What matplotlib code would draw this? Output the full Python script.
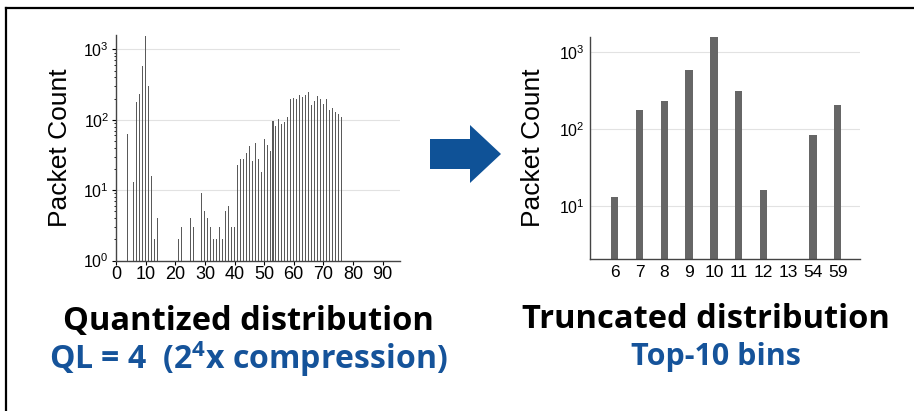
import numpy as np
import matplotlib
matplotlib.use("Agg")
import matplotlib.pyplot as plt
from matplotlib.lines import Line2D
from matplotlib.patches import Polygon

# quantized histogram (bin index -> packet count)
q_bins = [4, 6, 7, 8, 9, 10, 11, 12, 13, 14,
          21, 22, 25, 26, 29, 30, 31, 32, 33, 34, 35, 36, 37, 38, 39, 40,
          41, 42, 43, 44, 45, 46, 47, 48, 49, 50, 51, 52, 53, 54, 55, 56, 57, 58,
          59, 60, 61, 62, 63, 64, 65, 66, 67, 68, 69, 70, 71, 72, 73, 74, 75, 76]
q_counts = [63, 13, 176, 230, 585, 1570, 302, 16, 2, 4,
            2, 3, 4, 3, 9, 5, 4, 3, 2, 2, 3, 2, 5, 6, 3, 3,
            23, 28, 28, 34, 42, 26, 46, 28, 18, 54, 44, 36, 95, 82, 103, 87, 93, 110,
            199, 205, 200, 223, 213, 228, 247, 163, 183, 215, 195, 168, 195, 139, 147, 129, 121, 110]

# truncated (top-10) histogram
t_labels = ["6", "7", "8", "9", "10", "11", "12", "13", "54", "59"]
t_counts = [13, 179, 234, 590, 1570, 310, 16, 2, 83, 204]

blue = "#15539a"
bar_grey = "#666666"

plt.rcParams["font.family"] = ["Liberation Sans", "DejaVu Sans"]
plt.rcParams["mathtext.fontset"] = "custom"
plt.rcParams["mathtext.rm"] = "Open Sans"
plt.rcParams["mathtext.bf"] = "Open Sans:bold"

fig = plt.figure(figsize=(9.14, 4.11), dpi=100)

# left: quantized distribution
ax1 = fig.add_axes([0.127, 0.366, 0.311, 0.549])
ax1.bar(q_bins, q_counts, width=0.35, color="#5a5a5a")
ax1.set_yscale("log")
ax1.set_ylim(1, 1600)
ax1.set_xlim(0, 96)
ax1.set_xticks(range(0, 100, 10))
ax1.tick_params(axis="x", labelsize=13, length=3, pad=1)
ax1.tick_params(axis="y", which="major", labelsize=11.5, length=3, pad=2)
ax1.tick_params(axis="y", which="minor", length=1.5)
ax1.set_ylabel("Packet Count", fontsize=19)
ax1.yaxis.set_label_coords(-0.155, 0.5)

# right: truncated distribution
ax2 = fig.add_axes([0.6455, 0.369, 0.2955, 0.542])
ax2.bar(range(len(t_labels)), t_counts, width=0.3, color=bar_grey)
ax2.set_yscale("log")
ax2.set_ylim(2, 1600)
ax2.set_xlim(-1.0, 9.9)
ax2.set_xticks(range(len(t_labels)))
ax2.set_xticklabels(t_labels)
ax2.tick_params(axis="x", labelsize=12.5, length=0, pad=4)
ax2.tick_params(axis="y", which="major", labelsize=11.5, length=0, pad=4)
ax2.tick_params(axis="y", which="minor", length=0)
ax2.set_ylabel("Packet Count", fontsize=19)
ax2.yaxis.set_label_coords(-0.167, 0.5)

for ax in (ax1, ax2):
    ax.set_axisbelow(True)
    ax.yaxis.grid(True, which="major", color="#e2e2e2", linewidth=0.8)
    for s in ("top", "right"):
        ax.spines[s].set_visible(False)
    for s in ("left", "bottom"):
        ax.spines[s].set_color("#444444")
        ax.spines[s].set_linewidth(1.0)

# arrow between the panels (figure pixel space)
W, H = 914, 411
arrow_px = [(430, 139), (470, 139), (470, 125), (501, 154), (470, 183),
            (470, 169), (430, 169)]
fig.patches.append(Polygon([(x / W, 1 - y / H) for x, y in arrow_px], closed=True,
                           transform=fig.transFigure, facecolor="#0f5297",
                           edgecolor="none"))

# captions
cap = dict(family=["Open Sans", "DejaVu Sans"], fontweight="bold", ha="center", va="center")
fig.text(248 / W, 1 - 321 / H, "Quantized distribution", fontsize=23.5, color="black", **cap)
fig.text(248 / W, 1 - 359 / H, "QL = 4  (2$^\\mathbf{4}$x compression)", fontsize=23,
         color=blue, **cap)
fig.text(706 / W, 1 - 319 / H, "Truncated distribution", fontsize=23.5, color="black", **cap)
fig.text(716 / W, 1 - 357 / H, "Top-10 bins", fontsize=22, color=blue, **cap)

# frame lines (top and left)
fig.add_artist(Line2D([6 / W, 1], [1 - 8 / H, 1 - 8 / H], transform=fig.transFigure,
                      color="black", linewidth=1.6))
fig.add_artist(Line2D([6 / W, 6 / W], [0, 1 - 8 / H], transform=fig.transFigure,
                      color="black", linewidth=1.6))

fig.savefig("out.png", dpi=100)
